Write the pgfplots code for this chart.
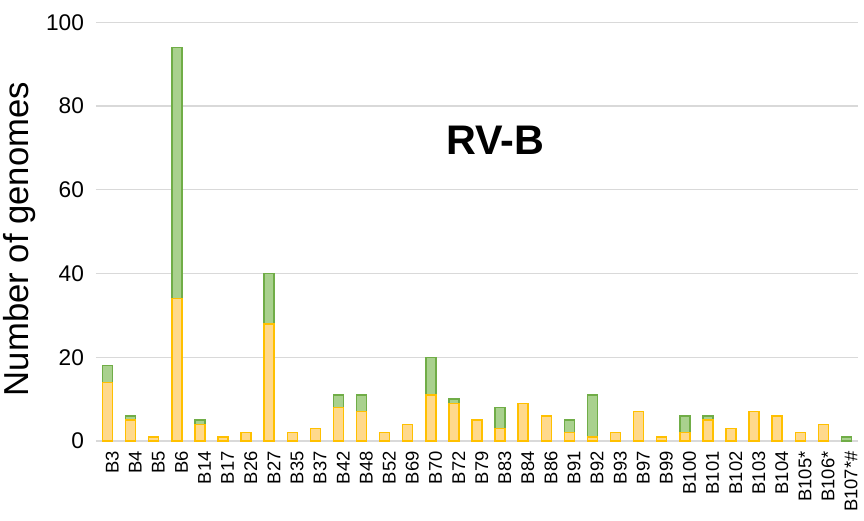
\documentclass[border=0pt]{standalone}
\usepackage{pgfplots}
\pgfplotsset{compat=1.18}
\usepackage{fontspec}
\setmainfont{Liberation Sans}
\definecolor{yfill}{HTML}{FFD98C}
\definecolor{yedge}{HTML}{FFC000}
\definecolor{gfill}{HTML}{A9D18E}
\definecolor{gedge}{HTML}{70AD47}
\definecolor{gridc}{HTML}{D9D9D9}
\begin{document}
\begin{tikzpicture}
\useasboundingbox (-72pt,-60pt) rectangle (576pt,330.75pt);
\begin{axis}[
  at={(0,0)}, anchor=south west,
  scale only axis, width=571.5pt, height=314pt,
  ybar, bar width=7.5pt, bar shift=0pt,
  xmin=-0.5, xmax=32.5, ymin=0, ymax=100,
  ytick={0,20,...,100},
  xtick={0,...,32},
  xticklabels={B3,B4,B5,B6,B14,B17,B26,B27,B35,B37,B42,B48,B52,B69,B70,B72,B79,B83,B84,B86,B91,B92,B93,B97,B99,B100,B101,B102,B103,B104,B105*,B106*,B107*\#},
  axis line style={draw=none},
  tick style={draw=none},
  ymajorgrids, grid style={gridc, line width=0.9pt},
  /pgf/number format/assume math mode=true,
  yticklabel style={font=\fontsize{17}{17}\selectfont, xshift=-5.5pt},
  xticklabel style={font=\fontsize{13.8}{13.8}\selectfont, rotate=90, anchor=east, yshift=-3.5pt},
  ylabel={Number of genomes},
  every axis y label/.style={at={(axis description cs:-0.101,0.4825)}, rotate=90, anchor=center, font=\fontsize{26}{26}\selectfont},
]
% total (yellow + green), drawn behind
\addplot[fill=gfill, draw=gedge, line width=1.1pt] coordinates {
(0,18) (1,6) (3,94) (4,5) (7,40) (10,11) (11,11) (14,20) (15,10) (17,8) (20,5) (21,11) (25,6) (26,6) (32,1)};
% yellow part
\addplot[fill=yfill, draw=yedge, line width=1.1pt] coordinates {
(0,14) (1,5) (2,1) (3,34) (4,4) (5,1) (6,2) (7,28) (8,2) (9,3) (10,8) (11,7) (12,2) (13,4) (14,11) (15,9) (16,5) (17,3) (18,9) (19,6) (20,2) (21,1) (22,2) (23,7) (24,1) (25,2) (26,5) (27,3) (28,7) (29,6) (30,2) (31,4)};
\node[font=\fontsize{31}{31}\selectfont\bfseries] at (axis cs:16.78,71.8) {RV-B};
\end{axis}
\end{tikzpicture}
\end{document}
